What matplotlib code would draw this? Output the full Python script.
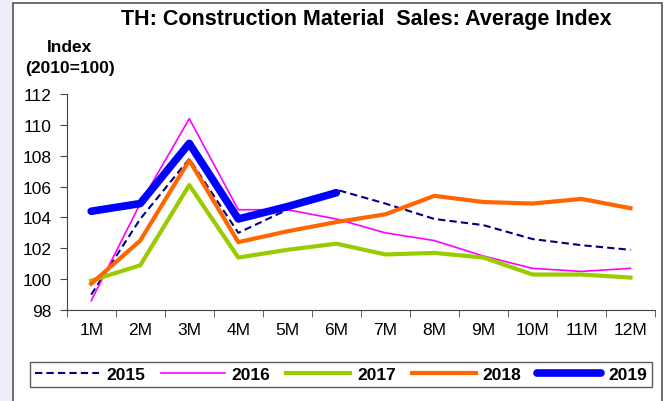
import matplotlib.pyplot as plt
from matplotlib.patches import Rectangle

plt.rcParams['font.family'] = ['Liberation Sans', 'DejaVu Sans']

months = ["1M", "2M", "3M", "4M", "5M", "6M", "7M", "8M", "9M", "10M", "11M", "12M"]
y2015 = [99.0, 103.9, 107.8, 103.0, 104.5, 105.8, 104.9, 103.9, 103.5, 102.6, 102.2, 101.9]
y2016 = [98.6, 104.9, 110.4, 104.5, 104.5, 103.9, 103.0, 102.5, 101.5, 100.7, 100.5, 100.7]
y2017 = [99.9, 100.9, 106.1, 101.4, 101.9, 102.3, 101.6, 101.7, 101.4, 100.3, 100.3, 100.1]
y2018 = [99.7, 102.5, 107.7, 102.4, 103.1, 103.7, 104.2, 105.4, 105.0, 104.9, 105.2, 104.6]
y2019 = [104.4, 104.9, 108.8, 103.9, 104.7, 105.6]

W, H = 669, 402
fig = plt.figure(figsize=(W / 100, H / 100), dpi=100)

# light strip left of the chart frame and the frame itself
fig.patches.append(Rectangle((0, 0), 13 / W, 1, transform=fig.transFigure,
                             facecolor='#eeeef8', edgecolor='none', zorder=-2))
fig.patches.append(Rectangle((13 / W, -0.01), (662 - 13) / W, (402 - 4) / H + 0.01,
                             transform=fig.transFigure, facecolor='white',
                             edgecolor='#555555', linewidth=1.2, zorder=-1))

ax = fig.add_axes([66.7 / W, 1 - 311 / H, (655 - 66.7) / W, (311 - 95) / H])
ax.set_zorder(2)
ax.patch.set_alpha(0)

x = list(range(len(months)))
ax.plot(x, y2015, color='#000080', lw=1.5, ls=(0, (3.5, 2)), label='2015')
ax.plot(x, y2016, color='#FF00FF', lw=1.2, label='2016')
ax.plot(x, y2017, color='#99CC00', lw=3, label='2017')
ax.plot(x, y2018, color='#FF6600', lw=3, label='2018')
ax.plot(x[:len(y2019)], y2019, color='#0000FF', lw=5.5, solid_capstyle='round',
        label='2019')

ax.set_xlim(-0.5, 11.5)
ax.set_ylim(98, 112)
ax.set_yticks(range(98, 113, 2))
ax.set_xticks(x)
ax.set_xticklabels(months)
ax.set_xticks([i - 0.5 for i in range(13)], minor=True)
ax.tick_params(axis='x', which='major', length=0, pad=9, labelsize=12.5)
ax.tick_params(axis='x', which='minor', length=5, direction='out', color='#444444')
ax.tick_params(axis='y', length=5, direction='out', color='#444444', labelsize=12.5, pad=6)
for s in ['top', 'right']:
    ax.spines[s].set_visible(False)
for s in ['left', 'bottom']:
    ax.spines[s].set_color('#444444')

fig.text(366 / W, 1 - 19 / H, "TH: Construction Material  Sales: Average Index",
         ha='center', va='center', fontsize=15.5, fontweight='bold')
fig.text(70 / W, 1 - 47 / H, "Index", ha='center', va='center',
         fontsize=12.5, fontweight='bold')
fig.text(70 / W, 1 - 68 / H, "(2010=100)", ha='center', va='center',
         fontsize=12.5, fontweight='bold')

leg = fig.legend(loc='center', bbox_to_anchor=(341 / W, 1 - 375.5 / H), ncol=5,
                 frameon=True, fancybox=False, edgecolor='#333333',
                 prop={'weight': 'bold', 'size': 12.5}, handlelength=3.7,
                 columnspacing=0.9, handletextpad=0.4, borderpad=0.3,
                 borderaxespad=0)
leg.get_frame().set_linewidth(1.0)

fig.savefig('out.png', dpi=100)
